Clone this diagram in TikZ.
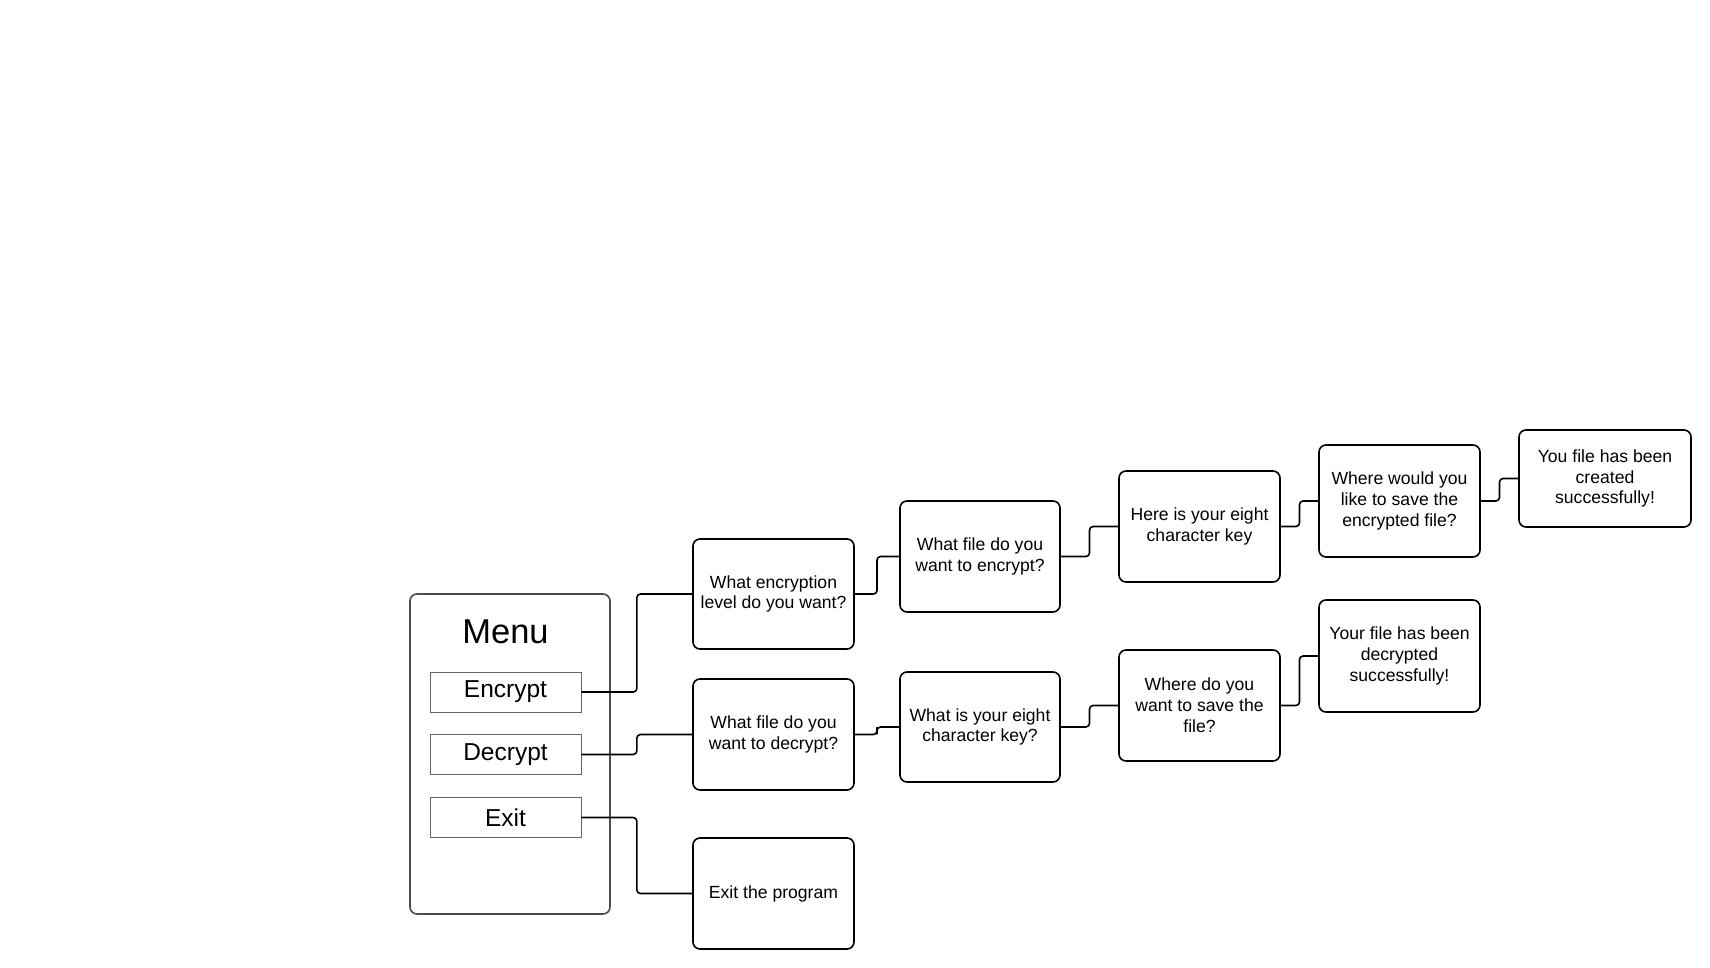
\documentclass[tikz,border=0pt]{standalone}
\usepackage{fontspec}
\setmainfont{Liberation Sans}
\usetikzlibrary{calc}
\tikzset{
  qbox/.style={draw=black, line width=1.6pt, rounded corners=7pt, align=center,
    minimum width=161pt, minimum height=110pt, inner sep=2pt,
    font=\fontsize{17.6}{20.8}\selectfont},
  menubox/.style={draw=black!70, line width=1.6pt, rounded corners=7pt,
    minimum width=200pt, minimum height=320pt},
  itembox/.style={draw=black!60, line width=0.9pt, minimum width=151pt, minimum height=40pt,
    font=\fontsize{24.5}{27}\selectfont, inner sep=0pt},
  conn/.style={draw=black, line width=1.6pt, rounded corners=3.6pt}
}
\begin{document}
\begin{tikzpicture}[x=1pt,y=-1pt]
\useasboundingbox (0,0) rectangle (1710,968);
% menu
\node[menubox] (menu) at (510,754) {};
\node[font=\fontsize{34.5}{38}\selectfont] (menutitle) at (505.5,632) {Menu};
\node[itembox] (enc) at (505.5,692) {\raisebox{-1.5pt}{Encrypt}};
\node[itembox] (dec) at (505.5,754.5) {\raisebox{-1.5pt}{Decrypt}};
\node[itembox] (ex) at (505.5,817.5) {Exit};
% column 2
\node[qbox] (q1) at (773.5,594) {What encryption\\level do you want?};
\node[qbox, minimum height=111pt] (d1) at (773.5,734.5) {What file do you\\want to decrypt?};
\node[qbox, minimum height=111pt] (x1) at (773.5,893.5) {Exit the program};
% column 3
\node[qbox, minimum width=160pt, minimum height=111pt] (q2) at (980,556.5) {What file do you\\want to encrypt?};
\node[qbox, minimum width=160pt] (d2) at (980,727) {What is your eight\\character key?};
% column 4
\node[qbox, minimum height=111pt] (q3) at (1199.5,526.5) {Here is your eight\\character key};
\node[qbox, minimum height=111pt] (d3) at (1199.5,705.5) {Where do you\\want to save the\\file?};
% column 5
\node[qbox, minimum height=112pt] (q4) at (1399.5,501) {Where would you\\like to save the\\encrypted file?};
\node[qbox, minimum height=112pt] (d4) at (1399.5,656) {Your file has been\\decrypted\\successfully!};
% column 6
\node[qbox, minimum width=172pt, minimum height=97pt] (q5) at (1605,478.5) {You file has been\\created\\successfully!};
% connectors
\foreach \a/\b in {enc/q1, dec/d1, ex/x1, q1/q2, d1/d2, q2/q3, d2/d3, q3/q4, d3/d4, q4/q5}{
  \draw[conn] (\a.east) -| ($(\a.east)!0.5!(\b.west)$) |- (\b.west);
}
\end{tikzpicture}
\end{document}
